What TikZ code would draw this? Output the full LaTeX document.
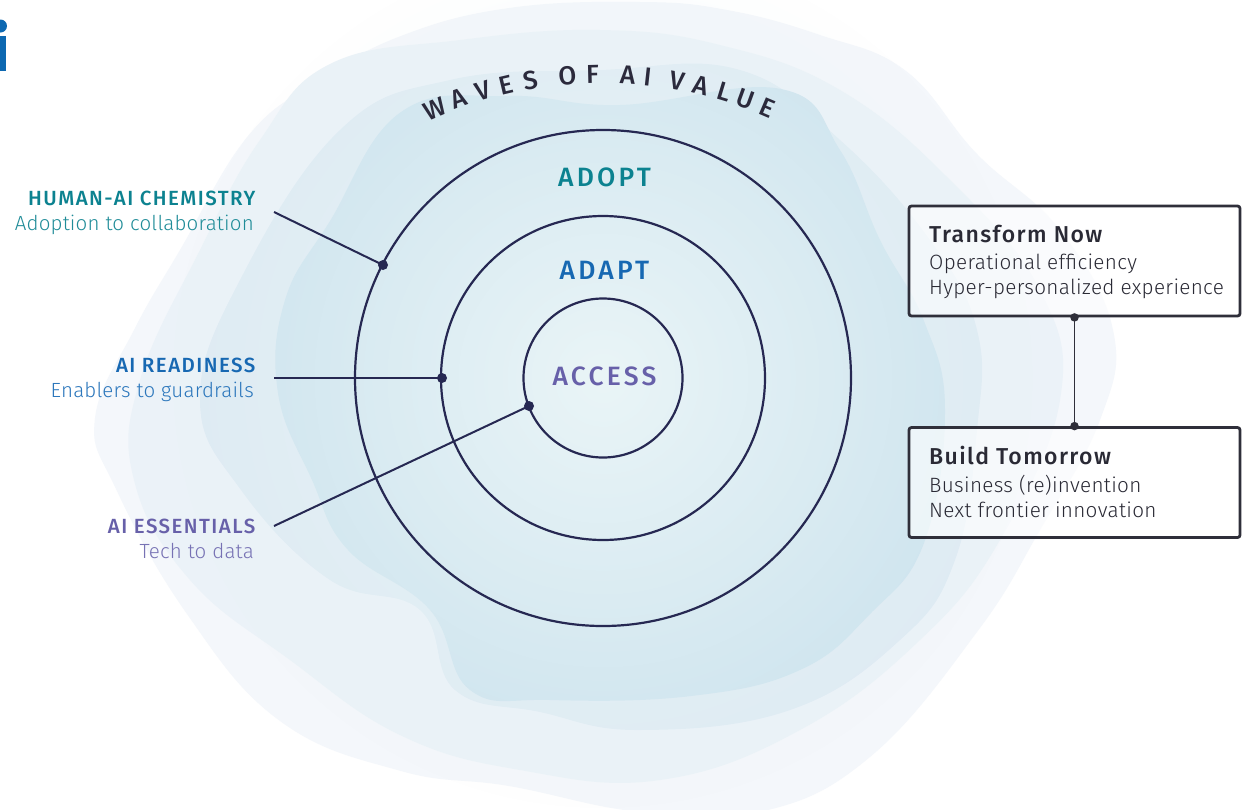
\documentclass[tikz,border=0pt]{standalone}
\usepackage{fontspec}
\setmainfont{Fira Sans}
\newfontfamily\fLight{Fira Sans Light}
\newfontfamily\fMedium{Fira Sans Medium}
\newcommand\fMed{\fMedium}
\newcommand\fSemi{\fMedium}
\usetikzlibrary{fadings}
\definecolor{bgA}{HTML}{F4F7FB}
\definecolor{bgB}{HTML}{EBF2F8}
\definecolor{bgC}{HTML}{DEEBF3}
\definecolor{bgD}{HTML}{CCE3EE}
\definecolor{glowcol}{HTML}{EAF5F7}
\definecolor{navy}{HTML}{262852}
\definecolor{boxline}{HTML}{2F2F3A}
\definecolor{boxtext}{HTML}{2A2A35}
\definecolor{titlecol}{HTML}{2B2A3C}
\definecolor{tealc}{HTML}{0C8290}
\definecolor{teald}{HTML}{1F8C98}
\definecolor{bluec}{HTML}{1768B2}
\definecolor{blued}{HTML}{2C77BC}
\definecolor{purc}{HTML}{6760A9}
\definecolor{purd}{HTML}{7772B4}
\definecolor{logoblue}{HTML}{0D68B1}
\tikzfading[name=glowfade, inner color=transparent!0, outer color=transparent!100]
\begin{document}
\begin{tikzpicture}[x=1pt,y=-1pt,
  ring/.style={draw=navy, line width=2.2pt},
  conn/.style={draw=navy, line width=2pt},
  dotn/.style={circle, fill=navy, inner sep=0pt, minimum size=10pt},
  dotb/.style={circle, fill=boxline, inner sep=0pt, minimum size=8.5pt},
  lbl/.style={anchor=base east, inner sep=0pt},
  caplbl/.style={lbl, font=\fSemi\fontsize{20.5}{24}\selectfont\addfontfeature{LetterSpace=7}},
  desclbl/.style={lbl, font=\fLight\fontsize{20.5}{24}\selectfont\addfontfeature{LetterSpace=1}},
  ringlbl/.style={anchor=base, inner sep=0pt, font=\fSemi\fontsize{26.5}{30}\selectfont\addfontfeature{LetterSpace=12}},
  boxn/.style={draw=boxline, line width=2.8pt, rounded corners=2.5pt, fill=white, fill opacity=0.6, minimum width=331pt, minimum height=110pt, inner sep=0pt},
  boxhead/.style={anchor=base west, inner sep=0pt, text=boxtext, font=\fMed\fontsize{23}{26}\selectfont\addfontfeature{LetterSpace=6}},
  boxtxt/.style={anchor=base west, inner sep=0pt, text=boxtext, font=\fLight\fontsize{20.7}{23}\selectfont\addfontfeature{LetterSpace=1.5}},
  titlel/.style={anchor=base, inner sep=0pt, text=titlecol, font=\fMed\fontsize{26}{30}\selectfont}
]
\useasboundingbox (0,0) rectangle (1244,809);
\fill[white] (0,0) rectangle (1244,809);
% background waves
\fill[bgA] plot[smooth cycle, tension=0.7] coordinates {(401,36) (509,8) (640,2) (727,10) (820,35) (906,71) (977,154) (1060,230) (1113,330) (1100,420) (1040,530) (977,632) (870,757) (760,812) (640,812) (509,786) (401,771) (280,721) (187,614) (116,489) (95,418) (134,330) (180,250) (248,136) (320,80)};
\fill[bgB] plot[smooth cycle, tension=0.7] coordinates {(330,64) (460,40) (600,30) (720,45) (840,90) (950,180) (1040,290) (1060,400) (1000,540) (920,640) (800,730) (660,780) (520,770) (400,735) (290,660) (190,580) (134,480) (140,380) (200,250) (260,140)};
\fill[bgC] plot[smooth cycle, tension=0.7] coordinates {(340,130) (450,80) (600,70) (740,70) (840,140) (930,240) (977,330) (977,430) (955,560) (900,640) (790,710) (640,730) (540,712) (455,690) (420,610) (330,580) (241,490) (200,400) (240,280)};
\fill[bgD] plot[smooth cycle, tension=0.7] coordinates {(330,221) (401,112) (509,96) (620,105) (781,89) (840,150) (880,240) (924,321) (945,411) (924,543) (870,614) (800,670) (691,696) (550,700) (470,690) (430,610) (348,550) (312,480) (278,393) (285,300)};
\fill[glowcol, path fading=glowfade, fit fading=true] (603,378) circle (430);
% logo fragment
\fill[logoblue] (-6,36) rectangle (5.7,70.5);
\fill[logoblue] (0.5,26) circle (6.5);
% title
\foreach \ch/\ang [count=\i] in {W/-23.3, A/-19.8, V/-16.4, E/-13.2, S/-9.8, O/-4.7, F/-1.3, A/3.5, I/6.2, V/10.3, A/13.6, L/16.8, U/19.9, E/23.0}
  \node[titlel, rotate=-\ang] (t\i) at ({602+413*sin(\ang)}, {496-413*cos(\ang)}) {\ch};
% rings
\draw[ring] (603,378) circle (248);
\draw[ring] (603,378) circle (162);
\draw[ring] (603,378) circle (79.5);
\node[ringlbl, text=tealc] (adopt) at (604.5,186) {ADOPT};
\node[ringlbl, text=bluec] (adapt) at (604.5,279) {ADAPT};
\node[ringlbl, text=purc] (access) at (604.5,385) {ACCESS};
% dots and connectors
\node[dotn] (d1) at (383,265) {};
\node[dotn] (d2) at (442,378) {};
\node[dotn] (d3) at (529,406) {};
\coordinate (e1) at (274,212);
\coordinate (e2) at (274,378);
\coordinate (e3) at (274,526);
\draw[conn] (e1) -- (d1.center);
\draw[conn] (e2) -- (d2.center);
\draw[conn] (e3) -- (d3.center);
% labels
\node[caplbl, text=tealc] (h1) at (255.5,205) {HUMAN-AI CHEMISTRY};
\node[desclbl, text=teald] (s1) at (254,230) {Adoption to collaboration};
\node[caplbl, text=bluec] (h2) at (255.5,372) {AI READINESS};
\node[desclbl, text=blued] (s2) at (254,397) {Enablers to guardrails};
\node[caplbl, text=purc] (h3) at (255.5,533) {AI ESSENTIALS};
\node[desclbl, text=purd] (s3) at (254,558) {Tech to data};
% boxes
\node[boxn] (tn) at (1074.5,261) {};
\node[boxn] (bt) at (1074.5,482.5) {};
\draw[boxline, line width=1.4pt] (tn.south) -- (bt.north);
\node[dotb] at (tn.south) {};
\node[dotb] at (bt.north) {};
\node[boxhead] (tnh) at (929,242) {Transform Now};
\node[boxtxt] (tn1) at (929,269) {Operational efficiency};
\node[boxtxt] (tn2) at (929,294) {Hyper-personalized experience};
\node[boxhead] (bth) at (929,464) {Build Tomorrow};
\node[boxtxt] (bt1) at (929,492) {Business (re)invention};
\node[boxtxt] (bt2) at (929,517) {Next frontier innovation};
\end{tikzpicture}
\end{document}
